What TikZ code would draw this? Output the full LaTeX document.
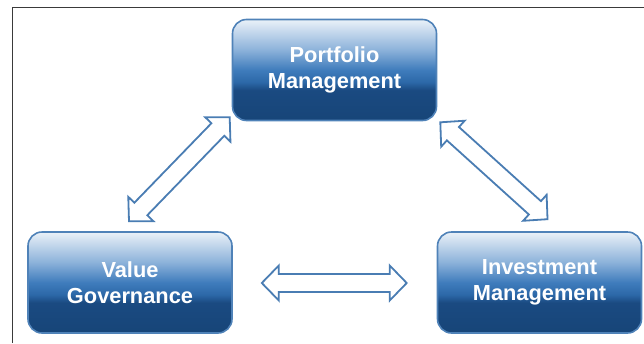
\documentclass[tikz,border=0pt]{standalone}
\usepackage{fontspec}
\setmainfont{Liberation Sans}
\usetikzlibrary{calc}
\definecolor{sh1}{HTML}{174578}
\definecolor{sh2}{HTML}{1A4A81}
\definecolor{sh3}{HTML}{2C68A8}
\definecolor{sh4}{HTML}{3F7CBC}
\definecolor{sh5}{HTML}{8CB2DA}
\definecolor{sh6}{HTML}{EAF1F8}
\definecolor{boxborder}{HTML}{4F82B8}
\definecolor{arrowblue}{HTML}{4A7DB3}
\definecolor{frame}{HTML}{3A3A3A}
\pgfdeclareverticalshading{boxshade}{100bp}{%
  color(0bp)=(sh1); color(25bp)=(sh1); color(40bp)=(sh2); color(44bp)=(sh3);
  color(50bp)=(sh4); color(60bp)=(sh5); color(75bp)=(sh6); color(100bp)=(sh6)}
\tikzset{
  box/.style={rectangle, rounded corners=14pt, draw=boxborder, line width=1.6pt,
    shading=boxshade, minimum width=204pt, minimum height=101pt,
    text=white, font=\fontsize{21.8}{26.5}\selectfont\bfseries, align=center},
  arrowline/.style={draw=arrowblue, fill=white, line width=1.8pt, line join=miter},
  frameline/.style={draw=frame, line width=1.4pt}
}
\newcommand\hl{17pt}
\newcommand\hh{17.5pt}
\newcommand\sw{9pt}
% #1 start, #2 end, #3 name prefix
\newcommand\dblarrow[3]{%
  \coordinate (#3a) at ($(#1)!\hl!(#2)$);
  \coordinate (#3b) at ($(#2)!\hl!(#1)$);
  \draw[arrowline] (#1)
    -- ($(#3a)!\hh!90:(#2)$) -- ($(#3a)!\sw!90:(#2)$)
    -- ($(#3b)!\sw!-90:(#1)$) -- ($(#3b)!\hh!-90:(#1)$)
    -- (#2)
    -- ($(#3b)!\hh!90:(#1)$) -- ($(#3b)!\sw!90:(#1)$)
    -- ($(#3a)!\sw!-90:(#2)$) -- ($(#3a)!\hh!-90:(#2)$)
    -- cycle;}
\begin{document}
\begin{tikzpicture}[x=1pt,y=-1pt]
  \useasboundingbox (0,0) rectangle (644,343);
  \coordinate (fbl) at (12.5,343);
  \coordinate (ftl) at (12.5,7.5);
  \coordinate (ftr) at (644,7.5);
  \draw[frameline] (fbl) -- (ftl) -- (ftr);

  \node[box] (pm) at (334.5,70) {Portfolio\\Management};
  \node[box] (vg) at (130,282.5) {Value\\Governance};
  \node[box] (im) at (539.5,282.5) {Investment\\Management};

  \coordinate (l1) at ($(vg.north)+(-1,-10)$);
  \coordinate (l2) at ($(pm.south west)+(-2,-4)$);
  \coordinate (r1) at ($(pm.south east)+(3,1)$);
  \coordinate (r2) at ($(im.north)+(8,-12)$);
  \coordinate (h1) at ($(vg.east)+(29,0.5)$);
  \coordinate (h2) at ($(im.west)+(-30,0.5)$);

  \dblarrow{l1}{l2}{la}
  \dblarrow{r1}{r2}{ra}
  \dblarrow{h1}{h2}{ha}
\end{tikzpicture}
\end{document}
